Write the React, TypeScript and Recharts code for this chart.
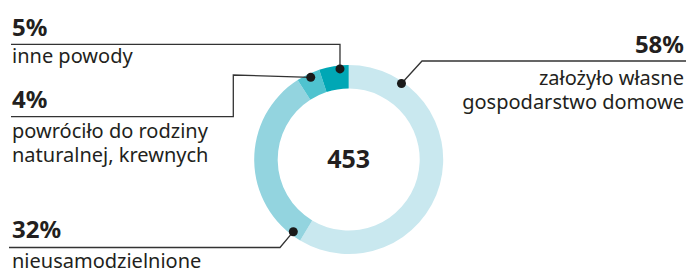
import { PieChart, Pie, Cell } from 'recharts';

const categories = [
  'założyło własne gospodarstwo domowe',
  'nieusamodzielnione',
  'powróciło do rodziny naturalnej, krewnych',
  'inne powody',
];
const labelLines = [
  ['założyło własne', 'gospodarstwo domowe'],
  ['nieusamodzielnione'],
  ['powróciło do rodziny', 'naturalnej, krewnych'],
  ['inne powody'],
];
const shares = [58, 32, 4, 5];
const total = 453;

const colors = ['#c9e8ef', '#93d4df', '#4fc3cf', '#00a7b5'];
const FONT = '"Noto Sans", sans-serif';
const INK = '#231f20';

const data = categories.map((name, i) => ({ name, value: shares[i] }));

// where each leader leaves the ring (deg clockwise from 12 o'clock) and how it runs to its text
const callouts = [
  { angle: 34.8, r: 92.5, path: [[422, 61], [686, 61]], x: 684, anchor: 'end', pctY: 53, textY: [85, 109] },
  { angle: 217.5, r: 91, path: [[280, 247.5], [9, 247.5]], x: 12, anchor: 'start', pctY: 237.5, textY: [268] },
  { angle: 335.2, r: 90.5, path: [[233.3, 75], [233.3, 116.7], [11, 116.7]], x: 12, anchor: 'start', pctY: 108, textY: [138, 162] },
  { angle: 354.5, r: 91, path: [[340, 44.3], [11, 44.3]], x: 12, anchor: 'start', pctY: 36, textY: [63] },
];

const renderCallout = (props: any) => {
  const { cx, cy, index } = props;
  const c = callouts[index];
  const rad = (c.angle * Math.PI) / 180;
  const dx = cx + c.r * Math.sin(rad);
  const dy = cy - c.r * Math.cos(rad);
  const pts = [[dx, dy], ...c.path].map((p) => p.join(',')).join(' ');
  return (
    <g key={`callout-${index}`}>
      <polyline points={pts} fill="none" stroke="#333" strokeWidth={1.3} />
      <circle cx={dx} cy={dy} r={4.5} fill="#1a1a1a" />
      <text x={c.x} y={c.pctY} textAnchor={c.anchor} fontFamily={FONT} fontSize={24} fontWeight={700} fill={INK}>
        {shares[index]}%
      </text>
      {labelLines[index].map((line, j) => (
        <text key={j} x={c.x} y={c.textY[j]} textAnchor={c.anchor} fontFamily={FONT} fontSize={20} fill={INK}>
          {line}
        </text>
      ))}
      {index === 0 && (
        <text x={cx} y={cy + 8.5} textAnchor="middle" fontFamily={FONT} fontSize={25} fontWeight={700} fill={INK}>
          {total}
        </text>
      )}
    </g>
  );
};

export default function App() {
  return (
    <div style={{ position: 'absolute', left: 0, top: 0, background: '#fff' }}>
      <PieChart width={686} height={271} margin={{ top: 0, right: 0, bottom: 0, left: 0 }}>
        <Pie
          data={data}
          dataKey="value"
          cx={348.7}
          cy={159.5}
          innerRadius={71}
          outerRadius={94.5}
          startAngle={90}
          endAngle={-270}
          stroke="none"
          label={renderCallout}
          labelLine={false}
          isAnimationActive={false}
        >
          {data.map((d, i) => (
            <Cell key={d.name} fill={colors[i]} />
          ))}
        </Pie>
      </PieChart>
    </div>
  );
}
